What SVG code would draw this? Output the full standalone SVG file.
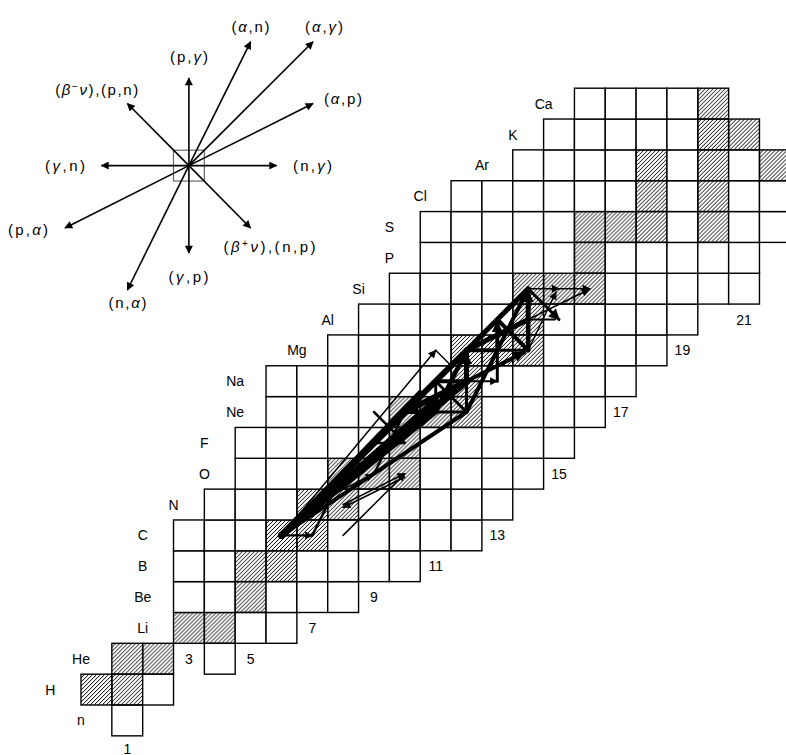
<svg xmlns="http://www.w3.org/2000/svg" xmlns:xlink="http://www.w3.org/1999/xlink" width="786" height="755" viewBox="0 0 786 755">
<style>
.cell{fill:#fff;stroke:#000;stroke-width:1.4}
.stab{fill:url(#hatch);stroke:#000;stroke-width:1.4}
.t{font-family:"Liberation Sans",Arial,sans-serif;font-size:14px;fill:#000;text-anchor:middle}
.lt{font-family:"Liberation Sans",Arial,sans-serif;font-size:15px;fill:#000;text-anchor:middle}
.g{font-style:italic}
.lg{stroke:#000;stroke-width:1.6;fill:none;marker-end:url(#ah)}
.f{stroke:#000;fill:none;stroke-linecap:round;stroke-linejoin:round}
.fa{stroke:#000;fill:none;stroke-linecap:round;marker-end:url(#ah)}
.fb{stroke:#000;fill:none;stroke-linecap:round;marker-end:url(#ahb)}
</style>
<defs>
<pattern id="hatch" patternUnits="userSpaceOnUse" x="0" y="0" width="4" height="4">
<path d="M-1,1 L1,-1 M0,4 L4,0 M3,5 L5,3" stroke="#000" stroke-width="1" shape-rendering="crispEdges"/>
</pattern>
<marker id="ah" viewBox="0 0 10 10" refX="9" refY="5" markerWidth="10" markerHeight="8" orient="auto" markerUnits="userSpaceOnUse">
<path d="M0,0 L10,5 L0,10 z" fill="#000"/>
</marker>
<marker id="ahb" viewBox="0 0 10 10" refX="9" refY="5" markerWidth="14" markerHeight="11" orient="auto" markerUnits="userSpaceOnUse">
<path d="M0,0 L10,5 L0,10 z" fill="#000"/>
</marker>
<rect id="c" class="cell" width="30.84" height="30.84"/>
<rect id="h" class="stab" width="30.84" height="30.84"/>
</defs>
<rect width="786" height="755" fill="#fff"/>

<g id="legend">
<rect x="173.5" y="150.2" width="30.84" height="30.84" fill="none" stroke="#666" stroke-width="1.2"/>
<line class="lg" x1="188.9" y1="165.6" x2="188.9" y2="78"/>
<line class="lg" x1="188.9" y1="165.6" x2="188.9" y2="253"/>
<line class="lg" x1="188.9" y1="165.6" x2="276.5" y2="165.6"/>
<line class="lg" x1="188.9" y1="165.6" x2="101.5" y2="165.6"/>
<line class="lg" x1="188.9" y1="165.6" x2="250.6" y2="41.8"/>
<line class="lg" x1="188.9" y1="165.6" x2="313" y2="41.8"/>
<line class="lg" x1="188.9" y1="165.6" x2="313" y2="103.5"/>
<line class="lg" x1="188.9" y1="165.6" x2="127.4" y2="103.5"/>
<line class="lg" x1="188.9" y1="165.6" x2="250.5" y2="228"/>
<line class="lg" x1="188.9" y1="165.6" x2="65" y2="228"/>
<line class="lg" x1="188.9" y1="165.6" x2="127.4" y2="290"/>
<text class="lt" x="189" y="62" textLength="38" lengthAdjust="spacing">(p,<tspan class="g">γ</tspan>)</text>
<text class="lt" x="250.5" y="32" textLength="38" lengthAdjust="spacing">(<tspan class="g">α</tspan>,n)</text>
<text class="lt" x="324" y="32" textLength="38" lengthAdjust="spacing">(<tspan class="g">α</tspan>,<tspan class="g">γ</tspan>)</text>
<text class="lt" x="343" y="104" textLength="38" lengthAdjust="spacing">(<tspan class="g">α</tspan>,p)</text>
<text class="lt" x="96.7" y="95" textLength="83" lengthAdjust="spacing">(<tspan class="g">β</tspan><tspan font-size="10" dy="-5">−</tspan><tspan class="g" dy="5">ν</tspan>),(p,n)</text>
<text class="lt" x="65" y="170.7" textLength="40" lengthAdjust="spacing">(<tspan class="g">γ</tspan>,n)</text>
<text class="lt" x="312.5" y="170.7" textLength="39" lengthAdjust="spacing">(n,<tspan class="g">γ</tspan>)</text>
<text class="lt" x="28" y="235" textLength="40" lengthAdjust="spacing">(p,<tspan class="g">α</tspan>)</text>
<text class="lt" x="269.5" y="252" textLength="92" lengthAdjust="spacing">(<tspan class="g">β</tspan><tspan font-size="10" dy="-5">+</tspan><tspan class="g" dy="5">ν</tspan>),(n,p)</text>
<text class="lt" x="188.5" y="282" textLength="40" lengthAdjust="spacing">(<tspan class="g">γ</tspan>,p)</text>
<text class="lt" x="127.5" y="308" textLength="38" lengthAdjust="spacing">(n,<tspan class="g">α</tspan>)</text>
</g>

<g id="chart">
<use href="#c" x="111.84" y="705"/>
<use href="#h" x="81" y="674.16"/><use href="#h" x="111.84" y="674.16"/><use href="#c" x="142.68" y="674.16"/>
<use href="#h" x="111.84" y="643.32"/><use href="#h" x="142.68" y="643.32"/><use href="#c" x="204.36" y="643.32"/>
<use href="#h" x="173.52" y="612.48"/><use href="#h" x="204.36" y="612.48"/><use href="#c" x="235.2" y="612.48"/><use href="#c" x="266.04" y="612.48"/>
<use href="#c" x="173.52" y="581.64"/><use href="#c" x="204.36" y="581.64"/><use href="#h" x="235.2" y="581.64"/><use href="#c" x="266.04" y="581.64"/><use href="#c" x="296.88" y="581.64"/><use href="#c" x="327.72" y="581.64"/>
<use href="#c" x="173.52" y="550.8"/><use href="#c" x="204.36" y="550.8"/><use href="#h" x="235.2" y="550.8"/><use href="#h" x="266.04" y="550.8"/><use href="#c" x="296.88" y="550.8"/><use href="#c" x="327.72" y="550.8"/><use href="#c" x="358.56" y="550.8"/><use href="#c" x="389.4" y="550.8"/>
<use href="#c" x="173.52" y="519.96"/><use href="#c" x="204.36" y="519.96"/><use href="#c" x="235.2" y="519.96"/><use href="#h" x="266.04" y="519.96"/><use href="#h" x="296.88" y="519.96"/><use href="#c" x="327.72" y="519.96"/><use href="#c" x="358.56" y="519.96"/><use href="#c" x="389.4" y="519.96"/><use href="#c" x="420.24" y="519.96"/><use href="#c" x="451.08" y="519.96"/>
<use href="#c" x="204.36" y="489.12"/><use href="#c" x="235.2" y="489.12"/><use href="#c" x="266.04" y="489.12"/><use href="#h" x="296.88" y="489.12"/><use href="#h" x="327.72" y="489.12"/><use href="#c" x="358.56" y="489.12"/><use href="#c" x="389.4" y="489.12"/><use href="#c" x="420.24" y="489.12"/><use href="#c" x="451.08" y="489.12"/><use href="#c" x="481.92" y="489.12"/>
<use href="#c" x="235.2" y="458.28"/><use href="#c" x="266.04" y="458.28"/><use href="#c" x="296.88" y="458.28"/><use href="#h" x="327.72" y="458.28"/><use href="#h" x="358.56" y="458.28"/><use href="#h" x="389.4" y="458.28"/><use href="#c" x="420.24" y="458.28"/><use href="#c" x="451.08" y="458.28"/><use href="#c" x="481.92" y="458.28"/><use href="#c" x="512.76" y="458.28"/>
<use href="#c" x="235.2" y="427.44"/><use href="#c" x="266.04" y="427.44"/><use href="#c" x="296.88" y="427.44"/><use href="#c" x="327.72" y="427.44"/><use href="#c" x="358.56" y="427.44"/><use href="#h" x="389.4" y="427.44"/><use href="#c" x="420.24" y="427.44"/><use href="#c" x="451.08" y="427.44"/><use href="#c" x="481.92" y="427.44"/><use href="#c" x="512.76" y="427.44"/><use href="#c" x="543.6" y="427.44"/>
<use href="#c" x="266.04" y="396.6"/><use href="#c" x="296.88" y="396.6"/><use href="#c" x="327.72" y="396.6"/><use href="#c" x="358.56" y="396.6"/><use href="#h" x="389.4" y="396.6"/><use href="#h" x="420.24" y="396.6"/><use href="#h" x="451.08" y="396.6"/><use href="#c" x="481.92" y="396.6"/><use href="#c" x="512.76" y="396.6"/><use href="#c" x="543.6" y="396.6"/><use href="#c" x="574.44" y="396.6"/>
<use href="#c" x="266.04" y="365.76"/><use href="#c" x="296.88" y="365.76"/><use href="#c" x="327.72" y="365.76"/><use href="#c" x="358.56" y="365.76"/><use href="#c" x="389.4" y="365.76"/><use href="#c" x="420.24" y="365.76"/><use href="#h" x="451.08" y="365.76"/><use href="#c" x="481.92" y="365.76"/><use href="#c" x="512.76" y="365.76"/><use href="#c" x="543.6" y="365.76"/><use href="#c" x="574.44" y="365.76"/><use href="#c" x="605.28" y="365.76"/>
<use href="#c" x="327.72" y="334.92"/><use href="#c" x="358.56" y="334.92"/><use href="#c" x="389.4" y="334.92"/><use href="#c" x="420.24" y="334.92"/><use href="#h" x="451.08" y="334.92"/><use href="#h" x="481.92" y="334.92"/><use href="#h" x="512.76" y="334.92"/><use href="#c" x="543.6" y="334.92"/><use href="#c" x="574.44" y="334.92"/><use href="#c" x="605.28" y="334.92"/><use href="#c" x="636.12" y="334.92"/>
<use href="#c" x="358.56" y="304.08"/><use href="#c" x="389.4" y="304.08"/><use href="#c" x="420.24" y="304.08"/><use href="#c" x="451.08" y="304.08"/><use href="#c" x="481.92" y="304.08"/><use href="#h" x="512.76" y="304.08"/><use href="#c" x="543.6" y="304.08"/><use href="#c" x="574.44" y="304.08"/><use href="#c" x="605.28" y="304.08"/><use href="#c" x="636.12" y="304.08"/><use href="#c" x="666.96" y="304.08"/>
<use href="#c" x="389.4" y="273.24"/><use href="#c" x="420.24" y="273.24"/><use href="#c" x="451.08" y="273.24"/><use href="#c" x="481.92" y="273.24"/><use href="#h" x="512.76" y="273.24"/><use href="#h" x="543.6" y="273.24"/><use href="#h" x="574.44" y="273.24"/><use href="#c" x="605.28" y="273.24"/><use href="#c" x="636.12" y="273.24"/><use href="#c" x="666.96" y="273.24"/><use href="#c" x="697.8" y="273.24"/><use href="#c" x="728.64" y="273.24"/>
<use href="#c" x="420.24" y="242.4"/><use href="#c" x="451.08" y="242.4"/><use href="#c" x="481.92" y="242.4"/><use href="#c" x="512.76" y="242.4"/><use href="#c" x="543.6" y="242.4"/><use href="#h" x="574.44" y="242.4"/><use href="#c" x="605.28" y="242.4"/><use href="#c" x="636.12" y="242.4"/><use href="#c" x="666.96" y="242.4"/><use href="#c" x="697.8" y="242.4"/><use href="#c" x="728.64" y="242.4"/>
<use href="#c" x="420.24" y="211.56"/><use href="#c" x="451.08" y="211.56"/><use href="#c" x="481.92" y="211.56"/><use href="#c" x="512.76" y="211.56"/><use href="#c" x="543.6" y="211.56"/><use href="#h" x="574.44" y="211.56"/><use href="#h" x="605.28" y="211.56"/><use href="#h" x="636.12" y="211.56"/><use href="#c" x="666.96" y="211.56"/><use href="#h" x="697.8" y="211.56"/><use href="#c" x="728.64" y="211.56"/><use href="#c" x="759.48" y="211.56"/>
<use href="#c" x="451.08" y="180.72"/><use href="#c" x="481.92" y="180.72"/><use href="#c" x="512.76" y="180.72"/><use href="#c" x="543.6" y="180.72"/><use href="#c" x="574.44" y="180.72"/><use href="#c" x="605.28" y="180.72"/><use href="#h" x="636.12" y="180.72"/><use href="#c" x="666.96" y="180.72"/><use href="#h" x="697.8" y="180.72"/><use href="#c" x="728.64" y="180.72"/><use href="#c" x="759.48" y="180.72"/>
<use href="#c" x="512.76" y="149.88"/><use href="#c" x="543.6" y="149.88"/><use href="#c" x="574.44" y="149.88"/><use href="#c" x="605.28" y="149.88"/><use href="#h" x="636.12" y="149.88"/><use href="#c" x="666.96" y="149.88"/><use href="#h" x="697.8" y="149.88"/><use href="#c" x="728.64" y="149.88"/><use href="#h" x="759.48" y="149.88"/>
<use href="#c" x="543.6" y="119.04"/><use href="#c" x="574.44" y="119.04"/><use href="#c" x="605.28" y="119.04"/><use href="#c" x="636.12" y="119.04"/><use href="#c" x="666.96" y="119.04"/><use href="#h" x="697.8" y="119.04"/><use href="#h" x="728.64" y="119.04"/>
<use href="#c" x="574.44" y="88.2"/><use href="#c" x="605.28" y="88.2"/><use href="#c" x="636.12" y="88.2"/><use href="#c" x="666.96" y="88.2"/><use href="#h" x="697.8" y="88.2"/>
</g>

<g id="element-labels">
<text class="t" x="81" y="725.4">n</text>
<text class="t" x="50.2" y="694.6">H</text>
<text class="t" x="81" y="663.7">He</text>
<text class="t" x="142.7" y="632.9">Li</text>
<text class="t" x="142.7" y="602.1">Be</text>
<text class="t" x="142.7" y="571.2">B</text>
<text class="t" x="142.7" y="540.4">C</text>
<text class="t" x="173.5" y="509.5">N</text>
<text class="t" x="204.4" y="478.7">O</text>
<text class="t" x="204.4" y="447.9">F</text>
<text class="t" x="235.2" y="417">Ne</text>
<text class="t" x="235.2" y="386.2">Na</text>
<text class="t" x="296.9" y="355.3">Mg</text>
<text class="t" x="327.7" y="324.5">Al</text>
<text class="t" x="358.6" y="293.7">Si</text>
<text class="t" x="389.4" y="262.8">P</text>
<text class="t" x="389.4" y="232">S</text>
<text class="t" x="420.2" y="201.1">Cl</text>
<text class="t" x="481.9" y="170.3">Ar</text>
<text class="t" x="512.8" y="139.5">K</text>
<text class="t" x="543.6" y="108.6">Ca</text>
</g>

<g id="n-labels">
<text class="t" x="127.3" y="753.5">1</text>
<text class="t" x="188.9" y="663.7">3</text>
<text class="t" x="250.6" y="663.7">5</text>
<text class="t" x="312.3" y="632.9">7</text>
<text class="t" x="374" y="602.1">9</text>
<text class="t" x="435.7" y="571.2">11</text>
<text class="t" x="497.3" y="540.4">13</text>
<text class="t" x="559" y="478.7">15</text>
<text class="t" x="620.7" y="417">17</text>
<text class="t" x="682.4" y="355.3">19</text>
<text class="t" x="744.1" y="324.5">21</text>
</g>

<g id="connectors">
<line class="f" stroke-width="7" x1="281.5" y1="535.4" x2="404.8" y2="412"/>
<line class="f" stroke-width="7" x1="281.5" y1="535.4" x2="466.5" y2="381.2"/>
<line class="f" stroke-width="6" x1="281.5" y1="535.4" x2="435.7" y2="400"/>
<line class="f" stroke-width="5" x1="281.5" y1="535.4" x2="435.7" y2="412"/>
<line class="f" stroke-width="4" x1="281.5" y1="535.4" x2="466.5" y2="412"/>
<line class="f" stroke-width="4" x1="281.5" y1="535.4" x2="435.7" y2="381.2"/>
<line class="f" stroke-width="4" x1="281.5" y1="535.4" x2="420" y2="392"/>
<line class="fb" stroke-width="6" x1="466.5" y1="381.2" x2="408" y2="410.4"/>
<line class="f" stroke-width="6" x1="404.8" y1="412" x2="466.5" y2="350.3"/>
<line class="fb" stroke-width="5" x1="466.5" y1="381.2" x2="466.5" y2="354"/>
<line class="f" stroke-width="5" x1="466.5" y1="350.3" x2="528.2" y2="288.7"/>
<line class="f" stroke-width="4.5" x1="435.7" y1="412" x2="466.5" y2="350.3"/>
<line class="f" stroke-width="4" x1="466.5" y1="412" x2="497.3" y2="350.3"/>
<line class="fb" stroke-width="4" x1="497.3" y1="350.3" x2="497.3" y2="322"/>
<line class="f" stroke-width="4" x1="497.3" y1="319.5" x2="528.2" y2="350.3"/>
<line class="f" stroke-width="3" x1="528.2" y1="350.3" x2="497.3" y2="319.5"/>
<line class="f" stroke-width="4.5" x1="528.2" y1="350.3" x2="528.2" y2="319.5"/>
<line class="fb" stroke-width="5" x1="528.2" y1="319.5" x2="528.2" y2="292"/>
<line class="f" stroke-width="5" x1="528.2" y1="319.5" x2="466.5" y2="350.3"/>
<line class="f" stroke-width="4" x1="497.3" y1="350.3" x2="528.2" y2="288.7"/>
<line class="fb" stroke-width="4" x1="466.5" y1="381.2" x2="524" y2="352.4"/>
<line class="f" stroke-width="4" x1="466.5" y1="350.3" x2="497.3" y2="350.3"/>
<line class="f" stroke-width="3" x1="497.3" y1="350.3" x2="528.2" y2="350.3"/>
<line class="f" stroke-width="4" x1="404.8" y1="412" x2="435.7" y2="412"/>
<line class="f" stroke-width="3" x1="435.7" y1="412" x2="466.5" y2="412"/>
<line class="f" stroke-width="4" x1="435.7" y1="381.2" x2="466.5" y2="381.2"/>
<line class="f" stroke-width="3" x1="435.7" y1="412" x2="435.7" y2="381.2"/>
<line class="f" stroke-width="3.5" x1="404.8" y1="412" x2="466.5" y2="381.2"/>
<line class="f" stroke-width="3" x1="466.5" y1="412" x2="466.5" y2="381.2"/>
<line class="f" stroke-width="3.5" x1="466.5" y1="350.3" x2="528.2" y2="319.5"/>
<line class="f" stroke-width="3" x1="435.7" y1="381.2" x2="466.5" y2="350.3"/>
<line class="f" stroke-width="3" x1="466.5" y1="412" x2="435.7" y2="381.2"/>
<line class="f" stroke-width="3" x1="497.3" y1="381.2" x2="497.3" y2="350.3"/>
<line class="f" stroke-width="3" x1="497.3" y1="319.5" x2="528.2" y2="288.7"/>
<line class="f" stroke-width="3" x1="343.1" y1="473.7" x2="404.8" y2="412"/>
<line class="f" stroke-width="2.5" x1="312.3" y1="535.4" x2="343.1" y2="473.7"/>
<line class="f" stroke-width="2.5" x1="373.98" y1="442.9" x2="404.8" y2="442.9"/>
<line class="f" stroke-width="2.5" x1="373.98" y1="442.9" x2="404.8" y2="412"/>
<line class="f" stroke-width="2.5" x1="404.8" y1="442.9" x2="373.98" y2="412"/>
<line class="f" stroke-width="2.5" x1="373.98" y1="473.7" x2="404.8" y2="412"/>
<line class="fa" stroke-width="2.2" x1="281.5" y1="535.4" x2="312.3" y2="535.4"/>
<line class="fa" stroke-width="1.5" x1="281.5" y1="535.4" x2="435.7" y2="350.3"/>
<line class="f" stroke-width="1.5" x1="435.7" y1="350.3" x2="452" y2="366.5"/>
<line class="fa" stroke-width="1.5" x1="343.1" y1="535.4" x2="404.8" y2="473.7"/>
<line class="fa" stroke-width="1.5" x1="343.1" y1="504.5" x2="404.8" y2="473.7"/>
<line class="fa" stroke-width="1.5" x1="404.8" y1="477" x2="343.1" y2="507.5"/>
<line class="fa" stroke-width="1.5" x1="312.3" y1="504.5" x2="373" y2="474.5"/>
<line class="fa" stroke-width="2" x1="466.5" y1="381.2" x2="497.3" y2="381.2"/>
<line class="fa" stroke-width="1.5" x1="528.2" y1="288.7" x2="559" y2="288.7"/>
<line class="fa" stroke-width="1.5" x1="559" y1="288.7" x2="589.9" y2="288.7"/>
<line class="fa" stroke-width="1.5" x1="528.2" y1="350.3" x2="556" y2="292"/>
<line class="fa" stroke-width="1.5" x1="528.2" y1="319.5" x2="589" y2="289.5"/>
<line class="fb" stroke-width="3" x1="528.2" y1="288.7" x2="559" y2="319.5"/>
<line class="f" stroke-width="2" x1="528.2" y1="319.5" x2="555" y2="319.5"/>
</g>
</svg>
